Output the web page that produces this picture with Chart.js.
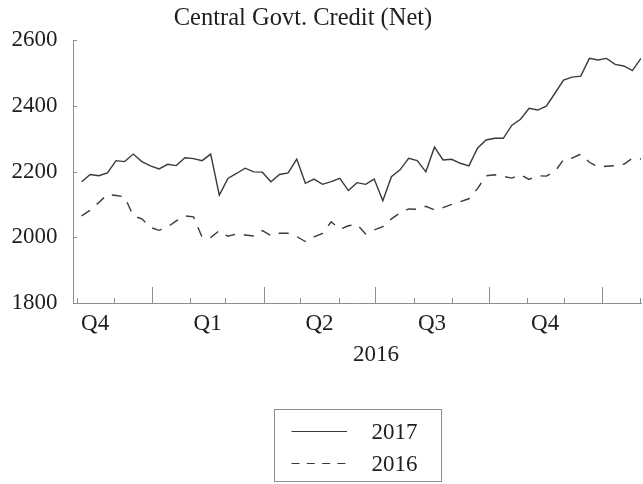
<!DOCTYPE html>
<html>
<head>
<meta charset="utf-8">
<title>Central Govt. Credit (Net)</title>
<script src="https://cdn.jsdelivr.net/npm/chart.js@4.4.1/dist/chart.umd.min.js"></script>
<style>
  html, body { margin: 0; padding: 0; background: #fff; }
</style>
</head>
<body>
<canvas id="chart" width="643" height="484"></canvas>
<script>
const TITLE = 'Central Govt. Credit (Net)';
const seriesLabels = ['2017', '2016'];

// weekly observations, x = days from 1 Jan 2016 (first week: 5 Nov 2015)
const FIRST_WEEK = -57;
const values2017 = [
  2169, 2191, 2187, 2196, 2233, 2230, 2253, 2230, 2217, 2208,
  2222, 2218, 2242, 2239, 2233, 2253, 2128, 2179, 2194, 2210,
  2199, 2198, 2169, 2191, 2196, 2238, 2164, 2177, 2161, 2169,
  2179, 2142, 2166, 2161, 2177, 2111, 2184, 2205, 2240, 2233,
  2199, 2274, 2235, 2237, 2225, 2217, 2271, 2296, 2301, 2301,
  2341, 2359, 2392, 2387, 2399, 2438, 2478, 2487, 2490, 2544,
  2539, 2544, 2526, 2521, 2507, 2544,
];
const values2016 = [
  2065, 2082, 2106, 2130, 2127, 2123, 2065, 2056, 2030, 2021,
  2031, 2050, 2065, 2062, 2000, 1999, 2020, 2003, 2010, 2007,
  2004, 2020, 2005, 2012, 2012, 2002, 1987, 2001, 2012, 2047,
  2024, 2035, 2039, 2010, 2022, 2032, 2056, 2074, 2086, 2085,
  2094, 2083, 2090, 2100, 2108, 2117, 2148, 2187, 2190, 2185,
  2180, 2190, 2176, 2187, 2186, 2200, 2236, 2241, 2253, 2228,
  2214, 2216, 2218, 2222, 2240, 2238,
];

// axis ticks
const yTicks = [1800, 2000, 2200, 2400, 2600];
const quarterLabels = ['Q4', 'Q1', 'Q2', 'Q3', 'Q4'];
const quarterMids = [-46, 45.5, 136.5, 228, 320];
const yearLabel = '2016';
const yearMid = 182.5;
const monthStarts = [-61, -31, 0, 31, 60, 91, 121, 152, 182, 213, 244, 274, 305, 335, 366, 397];
const quarterStarts = [0, 91, 182, 274, 366];

const FONT = '"Liberation Serif", "Times New Roman", serif';
const TEXT_COLOR = '#1e1e1e';
const AXIS_COLOR = '#8e8e8e';
const LINE_COLOR = '#3a3a3a';
const LEGEND_DASHES = [[], [8, 7.3]];

const toPoints = (values) => values.map((v, i) => ({ x: FIRST_WEEK + 7 * i, y: v }));

// tick marks, title and boxed legend
const decorations = {
  id: 'decorations',
  afterDraw(chart) {
    const { ctx, chartArea, scales: { x, y } } = chart;
    ctx.save();
    ctx.strokeStyle = AXIS_COLOR;
    ctx.lineWidth = 1;
    ctx.beginPath();
    monthStarts.forEach((d) => {
      const px = Math.round(x.getPixelForValue(d)) + 0.5;
      const len = quarterStarts.includes(d) ? 16 : 5;
      ctx.moveTo(px, chartArea.bottom);
      ctx.lineTo(px, chartArea.bottom - len);
    });
    yTicks.forEach((v) => {
      const py = Math.round(y.getPixelForValue(v)) + 0.5;
      ctx.moveTo(chartArea.left, py);
      ctx.lineTo(chartArea.left + 4, py);
    });
    ctx.stroke();

    ctx.fillStyle = TEXT_COLOR;
    ctx.font = `24.5px ${FONT}`;
    ctx.textAlign = 'center';
    ctx.textBaseline = 'alphabetic';
    ctx.fillText(TITLE, 303, 25);

    // legend
    const cx = (chartArea.left + chartArea.right) / 2;
    const top = chart.height - 74.5;
    ctx.strokeStyle = AXIS_COLOR;
    ctx.strokeRect(Math.round(cx - 83.5) + 0.5, top, 167, 72);
    ctx.font = `23px ${FONT}`;
    ctx.textAlign = 'left';
    ctx.textBaseline = 'middle';
    chart.data.datasets.forEach((ds, i) => {
      const rowY = Math.round(top + 21 + 32 * i) + 0.5;
      ctx.strokeStyle = ds.borderColor;
      ctx.lineWidth = 1;
      ctx.setLineDash(LEGEND_DASHES[i]);
      ctx.beginPath();
      ctx.moveTo(cx - 65.5, rowY);
      ctx.lineTo(cx - 10, rowY);
      ctx.stroke();
      ctx.setLineDash([]);
      ctx.fillText(ds.label, cx + 14.5, rowY + 1);
    });
    ctx.restore();
  },
};

Chart.defaults.font.family = FONT;
Chart.defaults.color = TEXT_COLOR;

new Chart(document.getElementById('chart'), {
  type: 'line',
  data: {
    datasets: [{
      label: seriesLabels[0],
      data: toPoints(values2017),
      borderColor: LINE_COLOR,
      borderWidth: 1.4,
    },
    {
      label: seriesLabels[1],
      data: toPoints(values2016),
      borderColor: LINE_COLOR,
      borderWidth: 1.4,
      borderDash: [10, 9],
    }],
  },
  options: {
    responsive: false,
    animation: false,
    layout: {
      padding: {
        top: 40, right: 2, bottom: 74, left: 0,
      },
    },
    elements: {
      point: { radius: 0 },
      line: { tension: 0 },
    },
    plugins: {
      legend: { display: false },
      title: { display: false },
      tooltip: { enabled: false },
    },
    scales: {
      x: {
        type: 'linear',
        min: -64,
        max: 398,
        afterFit: (scale) => { scale.height = 107; },
        afterBuildTicks: (scale) => {
          scale.ticks = quarterMids.map((v) => ({ value: v })).concat({ value: yearMid });
        },
        grid: { display: false, drawTicks: false },
        border: { display: true, color: AXIS_COLOR, width: 1 },
        ticks: {
          autoSkip: false,
          maxRotation: 0,
          padding: 5.5,
          font: { size: 23, lineHeight: 1.35 },
          callback: (value, index) => (index < quarterLabels.length ? quarterLabels[index] : ['', yearLabel]),
        },
      },
      y: {
        min: 1800,
        max: 2600,
        afterFit: (scale) => { scale.width = 73; },
        afterBuildTicks: (scale) => {
          scale.ticks = yTicks.map((v) => ({ value: v }));
        },
        grid: { display: false, drawTicks: false },
        border: { display: true, color: AXIS_COLOR, width: 1 },
        ticks: {
          padding: 15.5,
          font: { size: 23 },
          callback: (value) => String(value),
        },
      },
    },
  },
  plugins: [decorations],
});
</script>
</body>
</html>
